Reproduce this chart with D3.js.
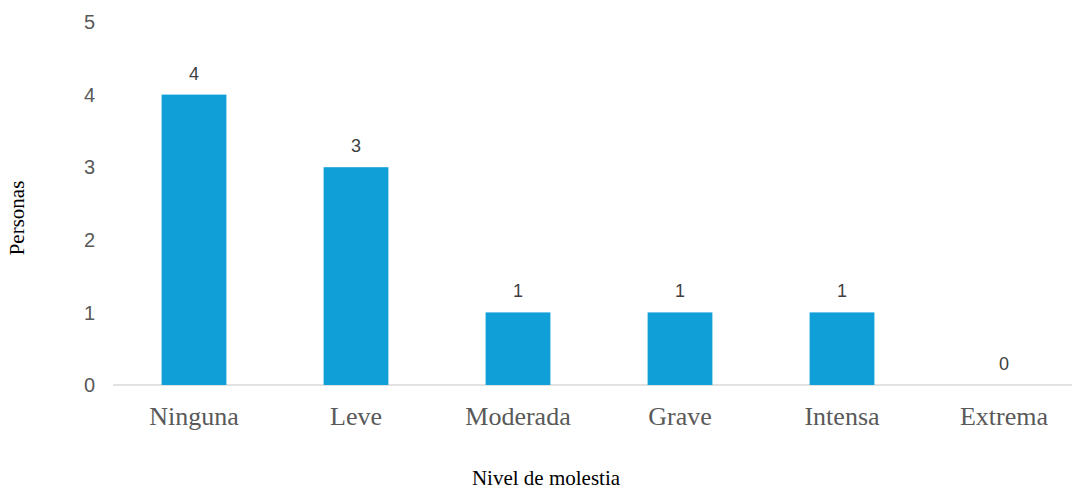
<!DOCTYPE html>
<html>
<head>
<meta charset="utf-8">
<script src="https://cdn.jsdelivr.net/npm/d3@7"></script>
<style>
  body { margin: 0; background: #fff; }
  svg { display: block; }
</style>
</head>
<body>
<svg id="chart" width="1072" height="491"></svg>
<script>
/* data */
const categories = ['Ninguna', 'Leve', 'Moderada', 'Grave', 'Intensa', 'Extrema'];
const personas   = [4, 3, 1, 1, 1, 0];
const yTicks     = [0, 1, 2, 3, 4, 5];

const SANS  = "'Liberation Sans', Arial, sans-serif";
const SERIF = "'Liberation Serif', 'Times New Roman', serif";

const svg = d3.select('#chart');

const x = d3.scaleBand().domain(categories).range([113, 1085]).paddingInner(0.6).paddingOuter(0.3);
const y = d3.scaleLinear().domain([0, 5]).range([385, 22]);

// baseline
svg.append('line')
  .attr('x1', 113).attr('x2', 1072)
  .attr('y1', y(0)).attr('y2', y(0))
  .attr('stroke', '#d9d9d9').attr('stroke-width', 1.5);

// y tick labels
svg.selectAll('.ytick').data(yTicks).enter().append('text')
  .attr('class', 'ytick')
  .attr('x', 95).attr('y', d => y(d))
  .attr('dy', '0.36em')
  .attr('text-anchor', 'end')
  .style('font-family', SANS)
  .attr('font-size', 20).attr('fill', '#595959')
  .text(d => d);

// bars
svg.selectAll('.bar').data(categories).enter().append('rect')
  .attr('class', 'bar')
  .attr('x', d => x(d))
  .attr('width', x.bandwidth())
  .attr('y', (d, i) => y(personas[i]))
  .attr('height', (d, i) => y(0) - y(personas[i]))
  .attr('fill', '#119fd7');

// data labels
svg.selectAll('.val').data(categories).enter().append('text')
  .attr('class', 'val')
  .attr('x', d => x(d) + x.bandwidth() / 2)
  .attr('y', (d, i) => y(personas[i]) - 15)
  .attr('text-anchor', 'middle')
  .style('font-family', SANS)
  .attr('font-size', 18).attr('fill', '#404040')
  .text((d, i) => personas[i]);

// category labels
svg.selectAll('.cat').data(categories).enter().append('text')
  .attr('class', 'cat')
  .attr('x', d => x(d) + x.bandwidth() / 2)
  .attr('y', 425)
  .attr('text-anchor', 'middle')
  .style('font-family', SERIF)
  .attr('font-size', 26).attr('fill', '#595959')
  .text(d => d);

// axis titles
svg.append('text')
  .attr('transform', 'translate(24,218) rotate(-90)')
  .attr('text-anchor', 'middle')
  .style('font-family', SERIF)
  .attr('font-size', 21).attr('fill', '#000')
  .text('Personas');

svg.append('text')
  .attr('x', 546).attr('y', 485)
  .attr('text-anchor', 'middle')
  .style('font-family', SERIF)
  .attr('font-size', 21).attr('fill', '#000')
  .text('Nivel de molestia');
</script>
</body>
</html>
